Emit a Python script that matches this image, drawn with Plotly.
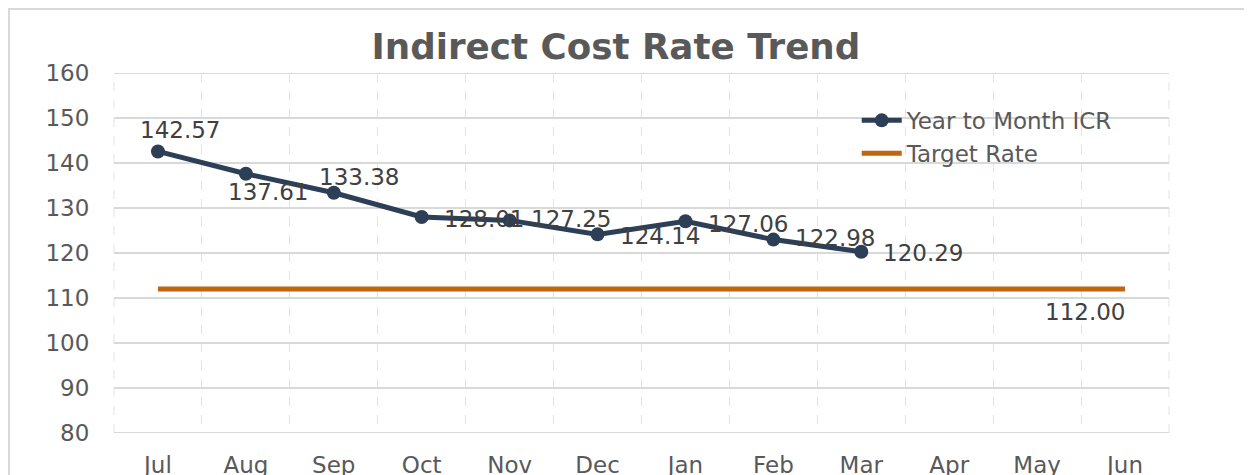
import plotly.graph_objects as go

months = ["Jul", "Aug", "Sep", "Oct", "Nov", "Dec", "Jan", "Feb", "Mar", "Apr", "May", "Jun"]
icr_months = ["Jul", "Aug", "Sep", "Oct", "Nov", "Dec", "Jan", "Feb", "Mar"]
icr_values = [142.57, 137.61, 133.38, 128.01, 127.25, 124.14, 127.06, 122.98, 120.29]
target_values = [112.00] * 12
y_ticks = [80, 90, 100, 110, 120, 130, 140, 150, 160]

FONT = "DejaVu Sans, Verdana, sans-serif"
NAVY = "#2D3E57"
ORANGE = "#C2650F"
FS = 23
HGRID = "#D9D9D9"
VGRID = "#E3E3E3"

fig = go.Figure()
fig.add_trace(go.Scatter(
    x=icr_months, y=icr_values, name="Year to Month ICR", mode="lines+markers",
    line=dict(color=NAVY, width=5), marker=dict(color=NAVY, size=14),
))
fig.add_trace(go.Scatter(
    x=months, y=target_values, name="Target Rate", mode="lines",
    line=dict(color=ORANGE, width=5),
))

# label placement styles (pixel offsets), one per ICR point
label_style = [
    ("center", 22, 21), ("center", 22, -18), ("center", 25, 16),
    ("left", 20, -2), ("left", 19, 1), ("left", 20, -2),
    ("left", 21, -3), ("left", 20, 2), ("left", 20, -1),
]
for m, v, (xa, xs, ys) in zip(icr_months, icr_values, label_style):
    fig.add_annotation(x=m, y=v, text=f"{v:.2f}", showarrow=False,
                       xanchor=xa, yanchor="middle", xshift=xs, yshift=ys,
                       font=dict(family=FONT, size=FS, color="#404040"))
fig.add_annotation(x=months[-1], y=target_values[-1], text=f"{target_values[-1]:.2f}",
                   showarrow=False, xanchor="right", yanchor="middle", xshift=2, yshift=-23,
                   font=dict(family=FONT, size=FS, color="#404040"))

# chart-area border
fig.add_shape(type="rect", xref="paper", yref="paper", x0=-0.0995, x1=1.3, y0=-0.3, y1=1.178,
              line=dict(color="#D9D9D9", width=2), layer="below")
# plot-area edge gridlines (bottom/top solid, left/right dashed)
for yv in (y_ticks[0], y_ticks[-1]):
    fig.add_shape(type="line", xref="paper", yref="y", x0=0, x1=1, y0=yv, y1=yv,
                  line=dict(color=HGRID, width=2), layer="below")
for xv in (0, 1):
    fig.add_shape(type="line", xref="paper", yref="paper", x0=xv, x1=xv, y0=0, y1=1,
                  line=dict(color=VGRID, width=1, dash="dash"), layer="below")

fig.update_layout(
    width=1244, height=467,
    margin=dict(l=106, r=83, t=65, b=42, autoexpand=False),
    paper_bgcolor="white", plot_bgcolor="white",
    title=dict(text="<b>Indirect Cost Rate Trend</b>", x=0.4887, xref="container", xanchor="center",
               y=0.9169, yref="container", yanchor="middle",
               font=dict(family=FONT, size=35.7, color="#595959")),
    font=dict(family=FONT, size=FS, color="#595959"),
    legend=dict(x=0.704, y=0.928, xanchor="left", yanchor="top", bgcolor="rgba(0,0,0,0)",
                font=dict(family=FONT, size=FS, color="#595959"), tracegroupgap=0,
                itemwidth=40),
    showlegend=True,
)
fig.update_xaxes(
    type="category", categoryorder="array", categoryarray=months,
    tickson="boundaries", showgrid=True, gridcolor=VGRID, griddash="dash", gridwidth=1,
    ticks="", ticklabelstandoff=16,
    showline=False, zeroline=False, automargin=False,
    tickfont=dict(family=FONT, size=FS, color="#595959"),
    range=[-0.5, 11.5],
)
fig.update_yaxes(
    range=[y_ticks[0], y_ticks[-1]], tickvals=y_ticks, showgrid=True, gridcolor=HGRID, gridwidth=2,
    ticks="outside", ticklen=19, tickcolor="rgba(0,0,0,0)",
    showline=False, zeroline=False, automargin=False,
    tickfont=dict(family=FONT, size=FS, color="#595959"),
)

fig.write_html("out.html")
